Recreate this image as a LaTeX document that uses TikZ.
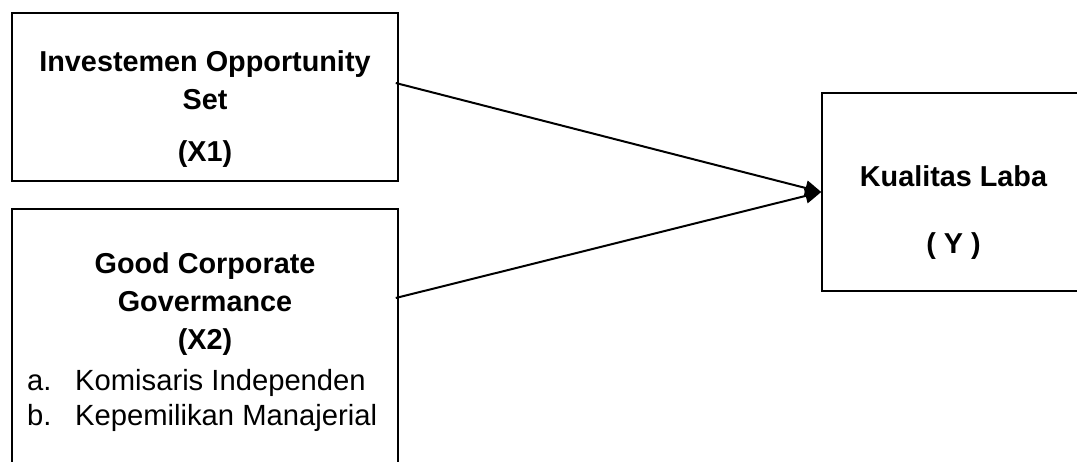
\documentclass[tikz,border=0pt]{standalone}
\usepackage{fontspec}
\setmainfont{Liberation Sans}
\usetikzlibrary{arrows.meta,positioning}

\begin{document}
\begin{tikzpicture}[x=1pt,y=-1pt,
            box/.style = {draw,line width=1.5pt,inner sep=0pt},
            heading/.style = {align=center,inner sep=0pt,font=\fontsize{28.8}{38}\selectfont\bfseries},
            listing/.style = {align=left,inner sep=0pt,font=\fontsize{29.2}{35}\selectfont},
            link/.style = {line width=2pt,-{Triangle[length=16pt,width=15pt]}}]
            \useasboundingbox (0,0) rectangle (1077,461);
            \clip (0,0) rectangle (1077,461);

            \node [box,minimum width=386,minimum height=168] (ios) at (205,97) {};
            \node [box,minimum width=386,minimum height=271] (gcg) at (205,344.5) {};
            \node [box,minimum width=263,minimum height=198] (laba) at (953.5,192) {};

            \node [heading] (iostext) at (205,109) {Investemen Opportunity\\Set\\[14pt](X1)};
            \node [heading] (gcgtext) at (205,304) {Good Corporate\\Govermance\\(X2)};
            \node [listing,anchor=west] (gcglist) at (27,400)
                {\makebox[48pt][l]{a.}Komisaris Independen\\\makebox[48pt][l]{b.}Kepemilikan Manajerial};
            \node [heading] (labatext) at (953.5,213) {Kualitas Laba\\[29pt]( Y )};

            \draw [link] ([xshift=-3pt,yshift=14pt]ios.east) -- (laba.west);
            \draw [link] ([xshift=-3pt,yshift=46.5pt]gcg.east) -- (laba.west);
        \end{tikzpicture}
\end{document}
